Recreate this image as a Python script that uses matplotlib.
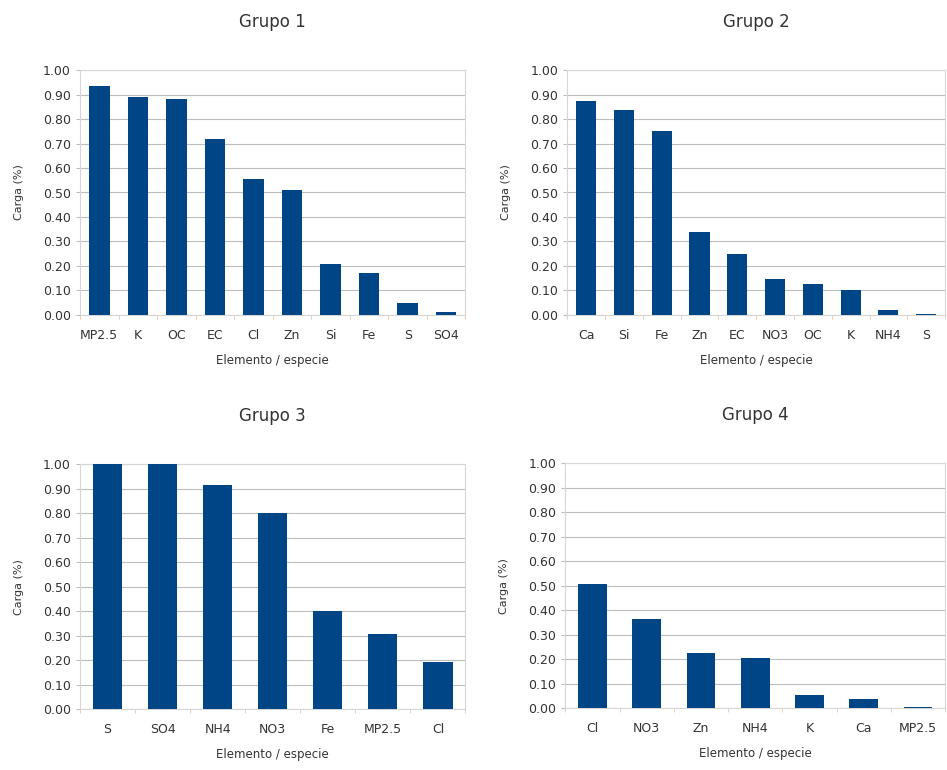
import matplotlib.pyplot as plt
from matplotlib.ticker import FormatStrFormatter, MultipleLocator

# Data
g1_labels = ["MP2.5", "K", "OC", "EC", "Cl", "Zn", "Si", "Fe", "S", "SO4"]
g1_values = [0.935, 0.89, 0.88, 0.72, 0.555, 0.51, 0.21, 0.17, 0.05, 0.01]

g2_labels = ["Ca", "Si", "Fe", "Zn", "EC", "NO3", "OC", "K", "NH4", "S"]
g2_values = [0.875, 0.835, 0.75, 0.34, 0.25, 0.145, 0.125, 0.10, 0.02, 0.005]

g3_labels = ["S", "SO4", "NH4", "NO3", "Fe", "MP2.5", "Cl"]
g3_values = [1.00, 1.00, 0.915, 0.80, 0.40, 0.305, 0.19]

g4_labels = ["Cl", "NO3", "Zn", "NH4", "K", "Ca", "MP2.5"]
g4_values = [0.505, 0.365, 0.225, 0.205, 0.055, 0.035, 0.005]

titles = ["Grupo 1", "Grupo 2", "Grupo 3", "Grupo 4"]

bar_color = "#004586"
text_color = "#333333"

fig = plt.figure(figsize=(9.47, 7.70), dpi=100)

# axes rectangles (left, bottom, width, height) in figure fraction
rects = [
    [0.0845, 0.591, 0.407, 0.318],
    [0.599, 0.591, 0.399, 0.318],
    [0.0845, 0.0792, 0.407, 0.318],
    [0.597, 0.0805, 0.401, 0.318],
]
groups = [(g1_labels, g1_values), (g2_labels, g2_values),
          (g3_labels, g3_values), (g4_labels, g4_values)]

for rect, (labels, values), title in zip(rects, groups, titles):
    ax = fig.add_axes(rect)
    n = len(labels)
    x = range(n)
    ax.bar(x, values, width=0.53, color=bar_color, zorder=3)
    ax.set_xlim(-0.5, n - 0.5)
    ax.set_ylim(0, 1.0)
    ax.yaxis.set_major_locator(MultipleLocator(0.1))
    ax.yaxis.set_major_formatter(FormatStrFormatter("%.2f"))
    ax.set_xticks(list(x))
    ax.set_xticklabels(labels)
    # small marks between categories
    ax.set_xticks([i - 0.5 for i in range(n + 1)], minor=True)
    ax.tick_params(axis="x", which="minor", length=3, color="#e8c8a8")
    ax.grid(axis="y", color="#bdbdbd", linewidth=0.8, zorder=0)
    for s in ax.spines.values():
        s.set_color("#d6d6d6")
        s.set_linewidth(0.8)
    ax.tick_params(axis="x", which="major", length=0, labelsize=9,
                   colors=text_color, pad=10)
    ax.tick_params(axis="y", length=3, labelsize=9, colors=text_color,
                   color="#bdbdbd")
    ax.set_ylabel("Carga (%)", fontsize=8, color=text_color, labelpad=14)
    ax.set_xlabel("Elemento / especie", fontsize=8.5, color=text_color,
                  labelpad=9)
    ax.set_title(title, fontsize=12, color=text_color, pad=31)

fig.savefig("out.png", dpi=100)
